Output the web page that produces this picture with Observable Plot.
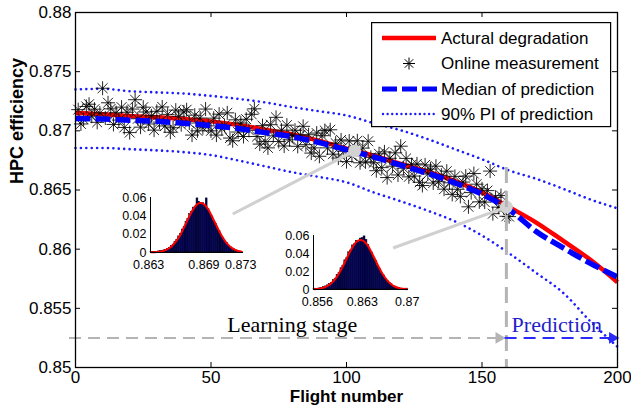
<!DOCTYPE html>
<html><head><meta charset="utf-8">
<script src="https://cdn.jsdelivr.net/npm/d3@7"></script>
<script src="https://cdn.jsdelivr.net/npm/@observablehq/plot@0.6"></script>
<style>
body{margin:0;background:#fff;}
#wrap{position:relative;width:631px;height:409px;font-family:"Liberation Sans",Arial,sans-serif;}
#wrap > svg{position:absolute;}
</style></head><body><div id="wrap"></div>
<script>
// ---- main series (value read every 10 flights) ----
const flights  = [0,10,20,30,40,50,60,70,80,90,100,110,120,130,140,150,160,170,180,190,200];
const actual   = [.87150,.87140,.87125,.87115,.87100,.87080,.87050,.87010,.86970,.86915,.86850,.86790,.86720,.86655,.86575,.86480,.86355,.86225,.86070,.85910,.85720];
const median   = [.87105,.87100,.87090,.87080,.87065,.87045,.87020,.86985,.86950,.86900,.86840,.86780,.86710,.86640,.86560,.86465,.86335,.86150,.86010,.85880,.85765];
const piUpper  = [.87350,.87355,.87335,.87325,.87315,.87295,.87270,.87240,.87200,.87165,.87130,.87065,.87005,.86930,.86845,.86760,.86665,.86595,.86510,.86420,.86345];
const piLower  = [.86855,.86855,.86845,.86835,.86820,.86795,.86750,.86700,.86650,.86610,.86565,.86480,.86405,.86325,.86235,.86115,.85965,.85800,.85630,.85390,.85175];
// online measurements, flights 1..160
const measurement = [
.87179,.87058,.87097,.87206,.87225,.87124,.87183,.87072,.87151,.87360,
.87109,.87237,.87186,.87054,.87153,.87091,.87200,.87028,.87157,.86985,
.87184,.87263,.87102,.87031,.87200,.87159,.87058,.87127,.87006,.87165,
.87074,.87202,.87041,.87139,.86988,.87026,.87175,.87123,.87052,.87160,
.87178,.87066,.86964,.87132,.87000,.87108,.87026,.87184,.87042,.87000,
.87107,.86964,.87141,.87018,.87045,.87152,.86939,.86916,.87093,.86990,
.87066,.86952,.87098,.87004,.87140,.87186,.86952,.86888,.87044,.86910,
.86856,.87052,.86958,.87114,.86910,.87006,.86872,.87048,.86924,.86960,
.87005,.86869,.86964,.87038,.86883,.86967,.86812,.86856,.86981,.86785,
.86959,.87002,.86856,.87009,.86803,.86896,.86770,.86923,.86827,.86740,
.86914,.86788,.86842,.86916,.86730,.86854,.86738,.86912,.86776,.86730,
.86663,.86806,.86689,.86822,.86605,.86768,.86701,.86814,.86627,.86870,
.86684,.86767,.86611,.86714,.86618,.86721,.86565,.86538,.86712,.86635,
.86677,.86559,.86701,.86573,.86625,.86507,.86659,.86561,.86463,.86615,
.86506,.86446,.86567,.86617,.86358,.86478,.86639,.86549,.86400,.86510,
.86398,.86495,.86660,.86300,.86438,.86355,.86453,.86350,.86278,.86275];
const xTicks = [0,50,100,150,200];
const yTicks = [0.85,0.855,0.86,0.865,0.87,0.875,0.88];
const yTickLabels = ["0.85","0.855","0.86","0.865","0.87","0.875","0.88"];
const legendLabels = ["Actural degradation","Online measurement","Median of prediction","90% PI of prediction"];

// ---- annotations ----
const circles = [{f:103, v:0.8683},{f:159, v:0.86356}];
const connectors = [{f1:58, v1:0.86297, f2:103, v2:0.8683},{f1:117.2, v1:0.8601, f2:159, v2:0.86356}];
const splitFlight = 159, splitTop = 0.8669;
const stageLevel = 0.8525;
const stageTexts = [{f:80, v:0.85356, t:"Learning stage", c:"#000"},{f:177.6, v:0.85356, t:"Prediction", c:"#1f1fc8"}];

// ---- inset histograms ----
const hist1Start = 0.8632, hist1Width = 0.0002;
const hist1 = [0.0003,0.0004,0.0006,0.0008,0.0012,0.0015,0.0019,0.0024,0.0031,0.0040,0.0052,0.0072,0.0088,0.0118,0.0140,0.0178,0.0203,0.0255,0.0285,0.0342,0.0370,0.0425,0.0450,0.0498,0.0510,0.0600,0.0560,0.0552,0.0548,0.0530,0.0600,0.0480,0.0430,0.0402,0.0348,0.0318,0.0265,0.0236,0.0188,0.0162,0.0124,0.0104,0.0076,0.0063,0.0044,0.0036,0.0024,0.0019,0.0012,0.0008];
const fit1 = [0.00014,0.00022,0.00034,0.00051,0.00073,0.00106,0.00152,0.00213,0.0029,0.0040,0.0053,0.0070,0.0090,0.0114,0.0141,0.0173,0.0209,0.0249,0.0291,0.0334,0.0377,0.0418,0.0457,0.0490,0.0517,0.0536,0.0547,0.0550,0.0543,0.0527,0.0504,0.0473,0.0437,0.0396,0.0353,0.0313,0.0271,0.0230,0.0192,0.0158,0.0128,0.0101,0.0079,0.0061,0.0046,0.0035,0.0025,0.0018,0.0013,0.0009];
const hist2Start = 0.8554, hist2Width = 0.0003;
const hist2 = [0.0010,0.0006,0.0009,0.0014,0.0019,0.0026,0.0035,0.0047,0.0062,0.0072,0.0105,0.0120,0.0165,0.0185,0.0240,0.0268,0.0330,0.0352,0.0420,0.0440,0.0498,0.0510,0.0550,0.0545,0.0575,0.0580,0.0600,0.0560,0.0500,0.0440,0.0418,0.0350,0.0325,0.0262,0.0235,0.0182,0.0160,0.0118,0.0100,0.0070,0.0060,0.0040,0.0033,0.0020,0.0017,0.0010,0.0008,0.0005,0.0010];
const fit2 = [0.00034,0.00052,0.00077,0.00112,0.00162,0.00229,0.00318,0.00433,0.00581,0.00764,0.00989,0.01256,0.01568,0.0192,0.0232,0.0274,0.0319,0.0364,0.0408,0.0450,0.0487,0.0518,0.0541,0.0555,0.0560,0.0555,0.0540,0.0516,0.0485,0.0447,0.0405,0.0361,0.0316,0.0271,0.0229,0.0190,0.0155,0.0124,0.0097,0.0075,0.0057,0.0042,0.0031,0.0022,0.0016,0.0011,0.00075,0.0005,0.00033];
const inset1Ticks = [0.863,0.869,0.873], inset2Ticks = [0.856,0.863,0.87];
const insetYTicks = [0,0.02,0.04,0.06], insetYLabels = ["0","0.02","0.04","0.06"];

// ---- build ----
const W=631,H=409,mL=75,mR=14,mT=12,mB=42, pw=W-mL-mR, ph=H-mT-mB;
const curveTable = flights.map((f,i)=>({f, actual:actual[i], median:median[i], upper:piUpper[i], lower:piLower[i]}));
const measTable = measurement.map((v,i)=>({f:i+1, v}));
const star = {draw(ctx, size){ const r=Math.sqrt(size/Math.PI); const d=r*0.7071;
  ctx.moveTo(-r,0);ctx.lineTo(r,0);ctx.moveTo(0,-r);ctx.lineTo(0,r);
  ctx.moveTo(-d,-d);ctx.lineTo(d,d);ctx.moveTo(-d,d);ctx.lineTo(d,-d);}};
const BLUE="#0000ff", DOT="#1c1cff", GRAY="#b4b4b4";

const main = Plot.plot({
  width:W, height:H, marginLeft:mL, marginRight:mR, marginTop:mT, marginBottom:mB,
  x:{domain:[0,200]}, y:{domain:[0.85,0.88]},
  style:{fontFamily:'"Liberation Sans",Arial,sans-serif', fontSize:"17px", color:"#000", background:"transparent", overflow:"visible"},
  marks:[
    Plot.line(curveTable,{x:"f",y:"upper",stroke:DOT,strokeWidth:2.6,strokeDasharray:"0.01,5.4",strokeLinecap:"round",curve:"monotone-x"}),
    Plot.line(curveTable,{x:"f",y:"lower",stroke:DOT,strokeWidth:2.6,strokeDasharray:"0.01,5.4",strokeLinecap:"round",curve:"monotone-x"}),
    Plot.line(curveTable,{x:"f",y:"actual",stroke:"#ff0000",strokeWidth:4.5,strokeLinecap:"butt",curve:"monotone-x"}),
    Plot.dot(measTable,{x:"f",y:"v",symbol:star,r:7,stroke:"#000",strokeWidth:1,strokeOpacity:0.85}),
    Plot.line(curveTable,{x:"f",y:"median",stroke:BLUE,strokeWidth:5.5,strokeDasharray:"15,5",strokeLinecap:"butt",strokeLinejoin:"miter",curve:"monotone-x"}),
    Plot.link(connectors,{x1:"f1",y1:"v1",x2:"f2",y2:"v2",stroke:"#d0d0d0",strokeWidth:3}),
    Plot.dot(circles,{x:"f",y:"v",r:6.5,fill:"#d2d2d2",stroke:"none"}),
    Plot.ruleX([splitFlight],{y1:splitTop,y2:0.85,stroke:GRAY,strokeWidth:3,strokeDasharray:"16,8"}),
    Plot.ruleY([stageLevel],{x1:0,x2:splitFlight,dx:-6,stroke:GRAY,strokeWidth:2,strokeDasharray:"12,7"}),
    Plot.dot([splitFlight],{x:d=>d,y:stageLevel,symbol:"triangle",rotate:90,r:4.4,dx:-7.5,fill:GRAY,stroke:"none"}),
    Plot.ruleY([stageLevel],{x1:splitFlight+1,x2:200,dx:-4,stroke:"#2a2aff",strokeWidth:2,strokeDasharray:"12,7"}),
    Plot.dot([200],{x:d=>d,y:stageLevel,symbol:"triangle",rotate:90,r:4.4,dx:-5,fill:"#2a2aff",stroke:"none"}),
    Plot.text(stageTexts,{x:"f",y:"v",text:"t",fill:"c",fontFamily:'"Liberation Serif","Times New Roman",serif',fontSize:22}),
    Plot.frame({stroke:"#000",strokeWidth:1.3}),
    Plot.tickY(yTicks,{y:d=>d,insetRight:pw-5,stroke:"#000"}),
    Plot.tickY(yTicks,{y:d=>d,insetLeft:pw-5,stroke:"#000"}),
    Plot.tickX(xTicks,{x:d=>d,insetTop:ph-5,stroke:"#000"}),
    Plot.tickX(xTicks,{x:d=>d,insetBottom:ph-5,stroke:"#000"}),
    Plot.axisY({ticks:yTicks,tickSize:0,tickPadding:4,tickFormat:d=>yTickLabels[yTicks.indexOf(d)],label:null}),
    Plot.axisX({ticks:xTicks,tickSize:0,tickPadding:3,label:null}),
    Plot.text(["HPC efficiency"],{frameAnchor:"left",dx:-58,dy:-6,rotate:-90,fontWeight:"bold",fontSize:18}),
    Plot.text(["Flight number"],{frameAnchor:"bottom",dy:34,fontWeight:"bold",fontSize:17})
  ]
});
const wrap = document.getElementById("wrap");
main.style.left="0px"; main.style.top="0px";
wrap.appendChild(main);

function inset(hist, fit, start, bw, ticks, domain, left, top, pwid, phei){
  const t = hist.map((h,i)=>({x1:start+bw*i, x2:start+bw*(i+1), xc:start+bw*(i+0.5), h, g:fit[i]}));
  const mLi=40, mTi=6, w=pwid+mLi+22, h=phei+mTi+28;
  const p = Plot.plot({
    width:w, height:h, marginLeft:mLi, marginTop:mTi, marginRight:w-mLi-pwid, marginBottom:h-mTi-phei,
    x:{domain}, y:{domain:[0,0.061]},
    style:{fontFamily:'"Liberation Sans",Arial,sans-serif', fontSize:"12.5px", color:"#000", background:"transparent", overflow:"visible"},
    marks:[
      Plot.rectY(t,{x1:"x1",x2:"x2",y:"h",fill:"#00006a",stroke:"#000",strokeWidth:0.5}),
      Plot.line(t,{x:"xc",y:"g",stroke:"#ff0000",strokeWidth:2,curve:"natural"}),
      Plot.ruleX([domain[0]],{stroke:"#000",strokeWidth:1}),
      Plot.ruleY([0],{stroke:"#000",strokeWidth:1}),
      Plot.axisY({ticks:insetYTicks,tickSize:0,tickPadding:4,tickFormat:d=>insetYLabels[insetYTicks.indexOf(d)],label:null}),
      Plot.axisX({ticks,tickSize:0,tickPadding:8,tickFormat:d=>String(d),label:null})
    ]
  });
  p.style.left=(left-mLi)+"px"; p.style.top=(top-mTi)+"px";
  wrap.appendChild(p);
}
inset(hist1, fit1, hist1Start, hist1Width, inset1Ticks, [0.8632,0.8733], 150, 197, 93, 55);
inset(hist2, fit2, hist2Start, hist2Width, inset2Ticks, [0.8554,0.8702], 313, 235, 95, 54);

// legend (inside the axes, top right)
const ns="http://www.w3.org/2000/svg";
const lg=document.createElementNS(ns,"svg");
lg.setAttribute("width",241); lg.setAttribute("height",106);
lg.style.left="371px"; lg.style.top="22px";
const rows=[16,41.5,67,92];
let s=`<rect x="0.6" y="0.6" width="239" height="104" fill="#fff" stroke="#000" stroke-width="1.2"/>`;
s+=`<line x1="11" x2="65" y1="${rows[0]}" y2="${rows[0]}" stroke="#ff0000" stroke-width="4.5"/>`;
const cx=38, cy=rows[1], r=6, d=r*0.7071;
s+=`<path d="M${cx-r},${cy}H${cx+r}M${cx},${cy-r}V${cy+r}M${cx-d},${cy-d}L${cx+d},${cy+d}M${cx-d},${cy+d}L${cx+d},${cy-d}" stroke="#000" stroke-width="1" fill="none"/>`;
s+=`<line x1="11" x2="66" y1="${rows[2]}" y2="${rows[2]}" stroke="${BLUE}" stroke-width="5" stroke-dasharray="15,5"/>`;
s+=`<line x1="12" x2="65" y1="${rows[3]}" y2="${rows[3]}" stroke="${DOT}" stroke-width="2.4" stroke-dasharray="0.01,4.6" stroke-linecap="round"/>`;
legendLabels.forEach((t,i)=>{ s+=`<text x="70" y="${rows[i]}" dy="0.35em" font-family="Liberation Sans, Arial, sans-serif" font-size="17" fill="#000">${t}</text>`; });
lg.innerHTML=s;
wrap.appendChild(lg);
</script></body></html>
